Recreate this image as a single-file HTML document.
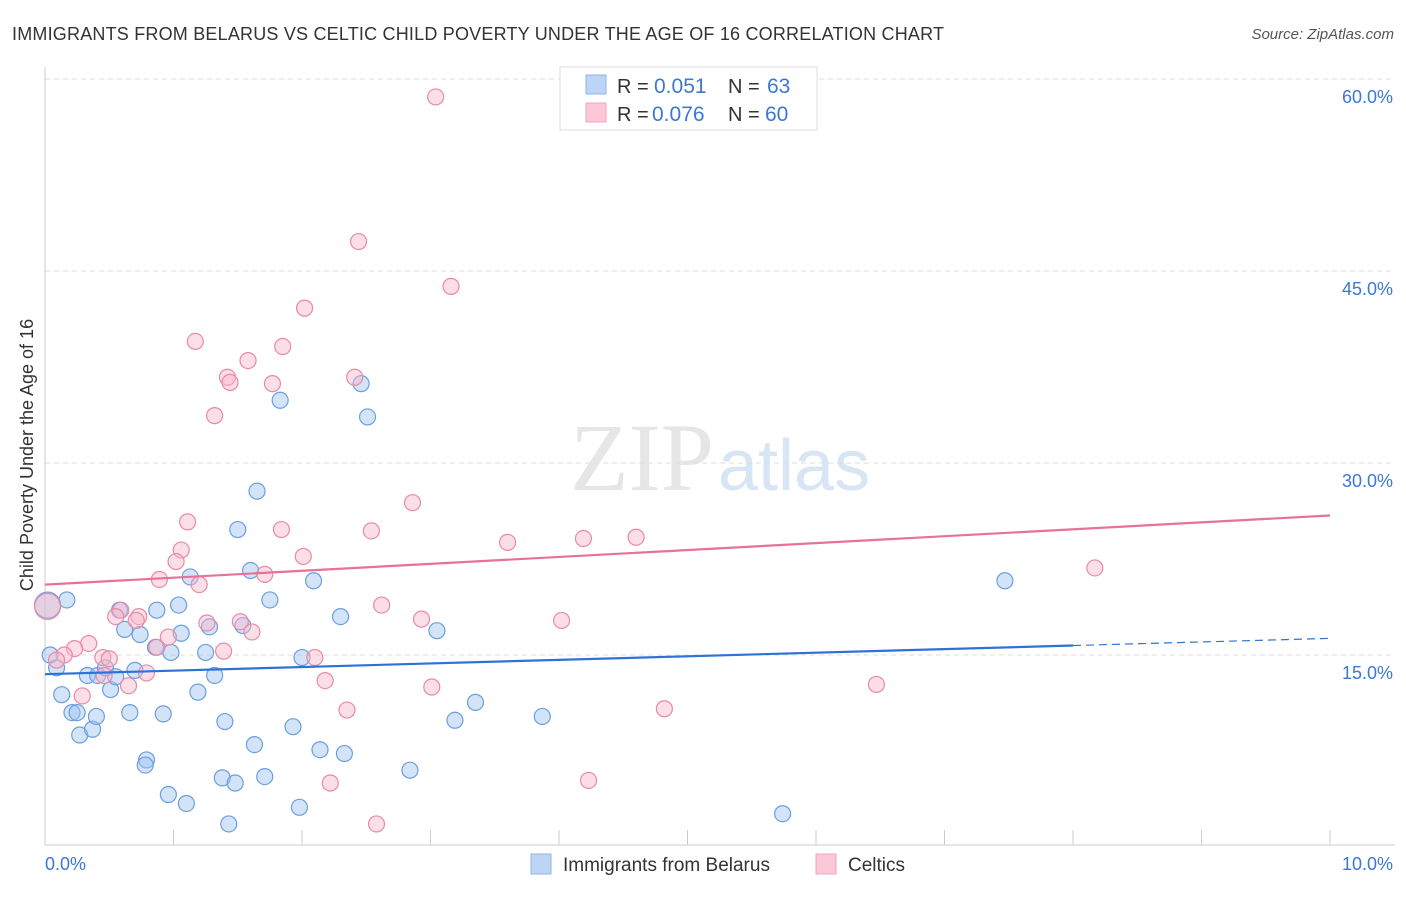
<!DOCTYPE html>
<html><head><meta charset="utf-8"><style>
body{margin:0;background:#fff;font-family:"Liberation Sans",sans-serif;}
svg text{font-family:"Liberation Sans",sans-serif;}
</style></head><body>
<svg id="chart" width="1406" height="892" xmlns="http://www.w3.org/2000/svg">
<text x="12" y="40" font-size="18" fill="#333" textLength="932">IMMIGRANTS FROM BELARUS VS CELTIC CHILD POVERTY UNDER THE AGE OF 16 CORRELATION CHART</text>
<text x="1394" y="39" font-size="15" fill="#555" font-style="italic" text-anchor="end">Source: ZipAtlas.com</text>
<text x="714" y="490" font-size="96" fill="#e6e6e6" text-anchor="end" style="font-family:'Liberation Serif',serif">ZIP</text>
<text x="718" y="490" font-size="72" fill="#d8e5f5">atlas</text>
<text transform="translate(33,455) rotate(-90)" font-size="18" fill="#333" text-anchor="middle">Child Poverty Under the Age of 16</text>
<g id="grid"></g><g id="pts"></g><g id="trend"></g>
<g>
<rect x="560" y="67" width="257" height="63" fill="#fff" stroke="#ddd"/>
<rect x="586" y="75" width="20" height="19" fill="#bcd5f5" stroke="#8fb5e6"/>
<rect x="586" y="103" width="20" height="19" fill="#fcc8d8" stroke="#f0a5bd"/>
<text x="617" y="93" font-size="20" fill="#333">R =</text>
<text x="654" y="93" font-size="21" fill="#3a78d8">0.051</text>
<text x="728" y="93" font-size="20" fill="#333">N =</text>
<text x="767" y="93" font-size="21" fill="#3a78d8">63</text>
<text x="617" y="121" font-size="20" fill="#333">R =</text>
<text x="652" y="121" font-size="21" fill="#3a78d8">0.076</text>
<text x="728" y="121" font-size="20" fill="#333">N =</text>
<text x="765" y="121" font-size="21" fill="#3a78d8">60</text>
</g>
<g>
<rect x="531" y="854" width="20" height="20" fill="#bcd5f5" stroke="#8fb5e6"/>
<text x="563" y="871" font-size="19" fill="#333">Immigrants from Belarus</text>
<rect x="816" y="854" width="20" height="20" fill="#fcc8d8" stroke="#f0a5bd"/>
<text x="848" y="871" font-size="19" fill="#333">Celtics</text>
</g>
</svg>
<script>
const yTicks=[15,30,45,60];
const yTickLabels=["15.0%","30.0%","45.0%","60.0%"];
const xLabels=["0.0%","10.0%"];
const blueX=[0.04,0.09,0.17,0.13,0.21,0.25,0.27,0.37,0.40,0.33,0.41,0.47,0.51,0.55,0.58,0.62,0.66,0.70,0.74,0.79,0.78,0.86,0.87,0.92,0.96,0.98,1.04,1.06,1.10,1.13,1.19,1.25,1.28,1.32,1.40,1.38,1.43,1.48,1.50,1.54,1.60,1.63,1.65,1.71,1.75,1.83,1.93,1.98,2.00,2.09,2.14,2.30,2.33,2.46,2.51,2.84,3.05,3.19,3.35,3.87,5.74,7.47,0.02];
const blueY=[15.0,14.0,19.3,11.9,10.5,10.5,8.75,9.2,10.2,13.4,13.4,14.0,12.3,13.3,18.5,17.0,10.5,13.8,16.6,6.8,6.4,15.6,18.5,10.4,4.1,15.2,18.9,16.7,3.4,21.1,12.1,15.2,17.2,13.4,9.8,5.4,1.8,5.0,24.8,17.3,21.6,8.0,27.8,5.5,19.3,34.9,9.4,3.1,14.8,20.8,7.6,18.0,7.3,36.2,33.6,6.0,16.9,9.9,11.3,10.2,2.6,20.8,18.9];
const pinkX=[3.04,2.44,3.16,2.02,1.17,1.85,1.58,1.42,1.44,1.77,2.41,1.32,2.86,1.11,1.84,2.54,3.60,4.19,4.60,1.06,2.01,1.02,1.71,0.89,1.20,8.17,2.62,0.59,0.55,0.73,0.71,2.93,4.02,1.26,1.52,1.61,0.96,0.87,0.34,0.23,1.39,0.15,0.09,0.45,0.50,0.79,2.10,0.46,2.18,3.01,0.65,0.29,6.47,4.82,2.35,2.22,4.23,2.58,0.02];
const pinkY=[58.6,47.3,43.8,42.1,39.5,39.1,38.0,36.7,36.3,36.2,36.7,33.7,26.9,25.4,24.8,24.7,23.8,24.1,24.2,23.2,22.7,22.3,21.3,20.9,20.5,21.8,18.9,18.5,18.0,18.0,17.7,17.8,17.7,17.5,17.6,16.8,16.4,15.6,15.9,15.5,15.3,15.0,14.6,14.8,14.7,13.6,14.8,13.4,13.0,12.5,12.6,11.8,12.7,10.8,10.7,5.0,5.2,1.8,18.8];
const blueTrend=[13.5,16.3];
const pinkTrend=[20.5,25.9];
const blueSolidEnd=8.0;
const NS="http://www.w3.org/2000/svg";
const X=v=>45+v*128.5, Y=v=>847-v*12.8;
function mk(t,a,p){const e=document.createElementNS(NS,t);for(const k in a)e.setAttribute(k,a[k]);p.appendChild(e);return e;}
const g=document.getElementById('grid');
yTicks.forEach((t,i)=>{
 const l=mk('line',{x1:45,x2:1395,y1:Y(t),y2:Y(t),stroke:'#ddd','stroke-dasharray':'5,4'},g);
 
 
 const tx=mk('text',{x:1393,y:Y(t)+24,'font-size':18,fill:'#3a78d8','text-anchor':'end'},g);
 
 
 tx.textContent=yTickLabels[i];
});
const ax=mk('line',{x1:45,x2:1395,y1:845,y2:845,stroke:'#ccc'},g);


const ay=mk('line',{x1:45,x2:45,y1:67,y2:845,stroke:'#ccc'},g);


for(let i=0;i<=10;i++){const t=mk('line',{x1:X(i),x2:X(i),y1:830,y2:845,stroke:'#ccc'},g);
 
 }
[[0,'start',45],[10,'end',1393]].forEach((a,i)=>{const t=mk('text',{x:a[2],y:870,'font-size':18,fill:'#3a78d8','text-anchor':a[1]},g);
 
 
 t.textContent=xLabels[i];});
const p=document.getElementById('pts');
function dots(xs,ys,fill,stroke,name){xs.forEach((x,i)=>{const r=(x<0.05&&ys[i]>18)?13:8;
 const c=mk('circle',{cx:X(x),cy:Y(ys[i]),r:r,fill:fill,'fill-opacity':0.45,stroke:stroke,'stroke-width':1.2},p);
 
 });}
dots(blueX,blueY,'#9ec2f0','#6a9fe0','blue-point');
dots(pinkX,pinkY,'#f8b5ca','#e88aa8','pink-point');
const tr=document.getElementById('trend');
const bAt=v=>blueTrend[0]+(blueTrend[1]-blueTrend[0])*v/10;
let l1=mk('line',{x1:X(0),y1:Y(bAt(0)),x2:X(blueSolidEnd),y2:Y(bAt(blueSolidEnd)),stroke:'#2f72d6','stroke-width':2.2},tr);


let l2=mk('line',{x1:X(blueSolidEnd),y1:Y(bAt(blueSolidEnd)),x2:X(10),y2:Y(bAt(10)),stroke:'#2f72d6','stroke-width':1.2,'stroke-dasharray':'8,5'},tr);


let l3=mk('line',{x1:X(0),y1:Y(pinkTrend[0]),x2:X(10),y2:Y(pinkTrend[1]),stroke:'#e8719a','stroke-width':2.2},tr);


</script>
</body></html>
